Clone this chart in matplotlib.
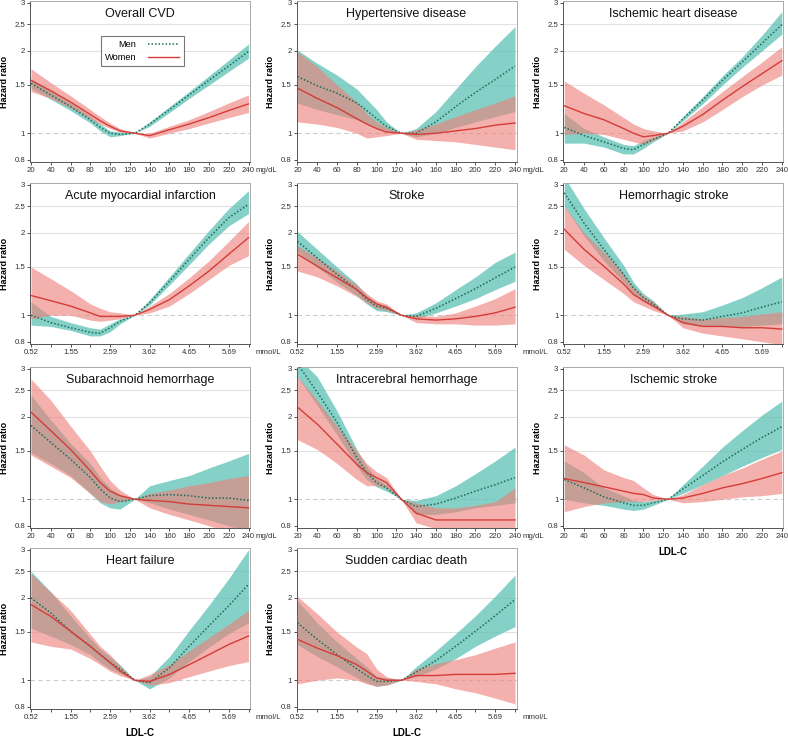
import matplotlib
matplotlib.use("Agg")
import matplotlib.pyplot as plt
import numpy as np

plt.rcParams['font.family'] = ['Liberation Sans', 'DejaVu Sans']

# ======================
# data (LDL-C in mg/dL, hazard ratios)
# ======================
ldl = [20, 40, 60, 80, 90, 100, 110, 125, 140, 160, 180, 200, 220, 240]

x_ticks = [20, 40, 60, 80, 100, 120, 140, 160, 180, 200, 220, 240]
mg_labels = ["20", "40", "60", "80", "100", "120", "140", "160", "180", "200", "220", "240"]
mmol_labels = ["0.52", "", "1.55", "", "2.59", "", "3.62", "", "4.65", "", "5.69", ""]

y_ticks = [0.8, 1, 1.5, 2, 2.5, 3]
y_labels = ["0.8", "1", "1.5", "2", "2.5", "3"]

# Overall CVD
cvd_m    = [1.52, 1.38, 1.25, 1.12, 1.05, 1.00, 0.99, 1.00, 1.08, 1.22, 1.38, 1.56, 1.76, 1.99]
cvd_m_lo = [1.46, 1.33, 1.21, 1.09, 1.02, 0.97, 0.98, 1.00, 1.06, 1.19, 1.34, 1.50, 1.68, 1.88]
cvd_m_hi = [1.58, 1.43, 1.29, 1.15, 1.08, 1.02, 1.01, 1.00, 1.10, 1.25, 1.42, 1.62, 1.85, 2.12]
cvd_w    = [1.56, 1.43, 1.30, 1.17, 1.11, 1.06, 1.02, 1.00, 0.98, 1.03, 1.08, 1.14, 1.21, 1.28]
cvd_w_lo = [1.42, 1.34, 1.24, 1.13, 1.08, 1.04, 1.01, 1.00, 0.96, 1.00, 1.04, 1.09, 1.14, 1.19]
cvd_w_hi = [1.72, 1.53, 1.37, 1.22, 1.15, 1.09, 1.04, 1.00, 1.00, 1.06, 1.12, 1.20, 1.29, 1.38]

# Hypertensive disease
htn_m    = [1.61, 1.49, 1.40, 1.29, 1.21, 1.13, 1.06, 1.00, 1.00, 1.10, 1.25, 1.41, 1.57, 1.76]
htn_m_lo = [1.29, 1.22, 1.17, 1.12, 1.08, 1.05, 1.02, 1.00, 0.97, 1.00, 1.05, 1.10, 1.15, 1.20]
htn_m_hi = [2.01, 1.80, 1.63, 1.45, 1.33, 1.22, 1.10, 1.00, 1.04, 1.20, 1.45, 1.75, 2.08, 2.45]
htn_w    = [1.46, 1.34, 1.24, 1.13, 1.08, 1.04, 1.01, 1.00, 0.99, 1.00, 1.02, 1.04, 1.07, 1.09]
htn_w_lo = [1.10, 1.08, 1.05, 1.00, 0.96, 0.97, 0.98, 1.00, 0.95, 0.94, 0.93, 0.91, 0.89, 0.87]
htn_w_hi = [1.98, 1.75, 1.50, 1.30, 1.18, 1.10, 1.05, 1.00, 1.03, 1.08, 1.15, 1.22, 1.29, 1.37]

# Ischemic heart disease
ihd_m    = [1.05, 0.98, 0.93, 0.88, 0.87, 0.91, 0.95, 1.00, 1.13, 1.32, 1.56, 1.82, 2.13, 2.49]
ihd_m_lo = [0.92, 0.92, 0.89, 0.84, 0.84, 0.88, 0.93, 1.00, 1.11, 1.28, 1.50, 1.74, 2.00, 2.30]
ihd_m_hi = [1.18, 1.04, 0.97, 0.91, 0.90, 0.94, 0.97, 1.00, 1.15, 1.36, 1.62, 1.90, 2.28, 2.78]
ihd_w    = [1.26, 1.18, 1.12, 1.04, 1.00, 0.97, 0.98, 1.00, 1.06, 1.17, 1.32, 1.48, 1.65, 1.84]
ihd_w_lo = [0.99, 1.00, 0.99, 0.95, 0.93, 0.91, 0.94, 1.00, 1.02, 1.10, 1.22, 1.36, 1.50, 1.63]
ihd_w_hi = [1.55, 1.40, 1.27, 1.14, 1.08, 1.04, 1.02, 1.00, 1.10, 1.25, 1.42, 1.61, 1.82, 2.07]

# Acute myocardial infarction
ami_m    = [1.00, 0.94, 0.90, 0.865, 0.86, 0.90, 0.95, 1.00, 1.11, 1.33, 1.60, 1.92, 2.27, 2.54]
ami_m_lo = [0.92, 0.91, 0.88, 0.84, 0.84, 0.87, 0.93, 1.00, 1.09, 1.29, 1.53, 1.82, 2.12, 2.35]
ami_m_hi = [1.12, 0.99, 0.94, 0.90, 0.89, 0.93, 0.97, 1.00, 1.14, 1.38, 1.68, 2.04, 2.45, 2.85]
ami_w    = [1.18, 1.13, 1.08, 1.02, 0.99, 0.99, 0.99, 1.00, 1.05, 1.14, 1.28, 1.45, 1.67, 1.92]
ami_w_lo = [0.97, 1.00, 1.00, 0.96, 0.95, 0.96, 0.97, 1.00, 1.02, 1.08, 1.20, 1.35, 1.52, 1.65]
ami_w_hi = [1.50, 1.36, 1.23, 1.10, 1.06, 1.03, 1.02, 1.00, 1.08, 1.20, 1.37, 1.58, 1.86, 2.20]

# Stroke
stk_m    = [1.86, 1.62, 1.41, 1.24, 1.14, 1.08, 1.06, 1.00, 0.99, 1.06, 1.15, 1.25, 1.37, 1.50]
stk_m_lo = [1.70, 1.50, 1.32, 1.18, 1.10, 1.04, 1.03, 1.00, 0.97, 1.02, 1.08, 1.15, 1.24, 1.33]
stk_m_hi = [2.02, 1.74, 1.50, 1.30, 1.18, 1.11, 1.08, 1.00, 1.02, 1.11, 1.24, 1.38, 1.56, 1.70]
stk_w    = [1.67, 1.51, 1.37, 1.24, 1.16, 1.10, 1.07, 1.00, 0.97, 0.96, 0.97, 0.99, 1.02, 1.07]
stk_w_lo = [1.45, 1.38, 1.28, 1.17, 1.11, 1.06, 1.04, 1.00, 0.94, 0.93, 0.93, 0.92, 0.92, 0.93]
stk_w_hi = [1.79, 1.62, 1.45, 1.29, 1.20, 1.13, 1.10, 1.00, 1.00, 0.99, 1.02, 1.08, 1.15, 1.25]

# Hemorrhagic stroke
hem_m    = [2.80, 2.17, 1.74, 1.41, 1.26, 1.16, 1.10, 1.00, 0.97, 0.96, 0.99, 1.02, 1.07, 1.12]
hem_m_lo = [2.50, 1.95, 1.58, 1.32, 1.20, 1.12, 1.07, 1.00, 0.93, 0.91, 0.91, 0.91, 0.92, 0.93]
hem_m_hi = [3.20, 2.45, 1.92, 1.52, 1.32, 1.20, 1.13, 1.00, 1.01, 1.03, 1.09, 1.16, 1.26, 1.38]
hem_w    = [2.06, 1.74, 1.51, 1.30, 1.19, 1.13, 1.08, 1.00, 0.94, 0.91, 0.91, 0.90, 0.90, 0.89]
hem_w_lo = [1.74, 1.52, 1.35, 1.20, 1.12, 1.08, 1.04, 1.00, 0.90, 0.86, 0.84, 0.82, 0.80, 0.78]
hem_w_hi = [2.50, 2.00, 1.70, 1.42, 1.27, 1.18, 1.12, 1.00, 0.99, 0.97, 0.98, 0.99, 1.01, 1.03]

# Subarachnoid hemorrhage
sah_m    = [1.86, 1.61, 1.40, 1.20, 1.09, 1.01, 0.98, 1.00, 1.03, 1.04, 1.03, 1.01, 1.01, 0.99]
sah_m_lo = [1.48, 1.35, 1.22, 1.05, 0.97, 0.93, 0.92, 1.00, 0.97, 0.92, 0.88, 0.84, 0.80, 0.76]
sah_m_hi = [2.40, 1.95, 1.60, 1.35, 1.20, 1.10, 1.04, 1.00, 1.12, 1.17, 1.22, 1.30, 1.38, 1.47]
sah_w    = [2.08, 1.78, 1.52, 1.27, 1.15, 1.07, 1.03, 1.00, 0.99, 0.98, 0.96, 0.95, 0.94, 0.93]
sah_w_lo = [1.45, 1.32, 1.20, 1.05, 0.98, 0.96, 0.98, 1.00, 0.93, 0.88, 0.84, 0.80, 0.76, 0.73]
sah_w_hi = [2.75, 2.30, 1.85, 1.50, 1.32, 1.17, 1.08, 1.00, 1.05, 1.08, 1.12, 1.15, 1.19, 1.22]

# Intracerebral hemorrhage
ich_m    = [3.12, 2.46, 1.91, 1.42, 1.25, 1.15, 1.10, 1.00, 0.94, 0.96, 1.01, 1.07, 1.13, 1.20]
ich_m_lo = [2.80, 2.20, 1.72, 1.32, 1.18, 1.11, 1.07, 1.00, 0.88, 0.88, 0.90, 0.93, 0.95, 0.97]
ich_m_hi = [3.30, 2.80, 2.10, 1.52, 1.32, 1.19, 1.13, 1.00, 0.99, 1.03, 1.12, 1.24, 1.38, 1.55]
ich_w    = [2.17, 1.88, 1.59, 1.34, 1.25, 1.20, 1.15, 1.00, 0.89, 0.84, 0.84, 0.84, 0.84, 0.84]
ich_w_lo = [1.65, 1.52, 1.35, 1.18, 1.12, 1.12, 1.10, 1.00, 0.82, 0.78, 0.77, 0.77, 0.77, 0.77]
ich_w_hi = [2.80, 2.30, 1.85, 1.50, 1.35, 1.26, 1.20, 1.00, 0.97, 0.93, 0.93, 0.95, 0.98, 1.10]

# Ischemic stroke
isc_m    = [1.18, 1.10, 1.02, 0.97, 0.95, 0.95, 0.97, 1.00, 1.09, 1.22, 1.37, 1.52, 1.68, 1.84]
isc_m_lo = [1.00, 0.97, 0.95, 0.92, 0.91, 0.92, 0.95, 1.00, 1.05, 1.13, 1.22, 1.32, 1.42, 1.52]
isc_m_hi = [1.38, 1.25, 1.10, 1.03, 0.99, 0.98, 0.99, 1.00, 1.13, 1.32, 1.55, 1.78, 2.03, 2.28]
isc_w    = [1.19, 1.15, 1.11, 1.07, 1.05, 1.04, 1.01, 1.00, 1.01, 1.05, 1.10, 1.14, 1.19, 1.25]
isc_w_lo = [0.90, 0.94, 0.97, 0.98, 0.98, 0.98, 0.99, 1.00, 0.97, 0.98, 1.00, 1.02, 1.03, 1.05]
isc_w_hi = [1.58, 1.45, 1.28, 1.20, 1.17, 1.10, 1.04, 1.00, 1.04, 1.13, 1.22, 1.30, 1.40, 1.50]

# Heart failure
hf_m    = [2.00, 1.76, 1.51, 1.33, 1.24, 1.16, 1.10, 1.00, 0.98, 1.11, 1.33, 1.58, 1.87, 2.24]
hf_m_lo = [1.55, 1.45, 1.35, 1.24, 1.16, 1.10, 1.06, 1.00, 0.93, 1.02, 1.17, 1.32, 1.48, 1.62]
hf_m_hi = [2.50, 2.10, 1.72, 1.42, 1.30, 1.22, 1.14, 1.00, 1.03, 1.22, 1.52, 1.88, 2.35, 3.00]
hf_w    = [1.89, 1.71, 1.51, 1.33, 1.24, 1.16, 1.08, 1.00, 0.99, 1.05, 1.14, 1.24, 1.35, 1.45]
hf_w_lo = [1.38, 1.33, 1.30, 1.20, 1.14, 1.08, 1.04, 1.00, 0.96, 0.98, 1.03, 1.08, 1.13, 1.17]
hf_w_hi = [2.45, 2.10, 1.80, 1.47, 1.33, 1.24, 1.13, 1.00, 1.05, 1.14, 1.28, 1.43, 1.60, 1.80]

# Sudden cardiac death
scd_m    = [1.62, 1.41, 1.24, 1.10, 1.04, 0.99, 0.99, 1.00, 1.07, 1.18, 1.33, 1.51, 1.72, 1.97]
scd_m_lo = [1.35, 1.22, 1.12, 1.02, 0.98, 0.95, 0.96, 1.00, 1.03, 1.10, 1.20, 1.33, 1.45, 1.57]
scd_m_hi = [1.95, 1.62, 1.38, 1.20, 1.12, 1.03, 1.02, 1.00, 1.12, 1.28, 1.48, 1.72, 2.03, 2.42]
scd_w    = [1.41, 1.31, 1.23, 1.14, 1.08, 1.02, 1.00, 1.00, 1.04, 1.04, 1.05, 1.05, 1.05, 1.06]
scd_w_lo = [0.97, 1.00, 1.02, 1.00, 0.97, 0.95, 0.96, 1.00, 0.99, 0.97, 0.93, 0.90, 0.86, 0.82]
scd_w_hi = [2.02, 1.75, 1.50, 1.32, 1.25, 1.10, 1.03, 1.00, 1.10, 1.15, 1.19, 1.24, 1.31, 1.38]

# (title, row, col, unit, men, men_lo, men_hi, women, women_lo, women_hi)
panels = [
    ("Overall CVD", 0, 0, "mg/dL", cvd_m, cvd_m_lo, cvd_m_hi, cvd_w, cvd_w_lo, cvd_w_hi),
    ("Hypertensive disease", 0, 1, "mg/dL", htn_m, htn_m_lo, htn_m_hi, htn_w, htn_w_lo, htn_w_hi),
    ("Ischemic heart disease", 0, 2, "mg/dL", ihd_m, ihd_m_lo, ihd_m_hi, ihd_w, ihd_w_lo, ihd_w_hi),
    ("Acute myocardial infarction", 1, 0, "mmol/L", ami_m, ami_m_lo, ami_m_hi, ami_w, ami_w_lo, ami_w_hi),
    ("Stroke", 1, 1, "mmol/L", stk_m, stk_m_lo, stk_m_hi, stk_w, stk_w_lo, stk_w_hi),
    ("Hemorrhagic stroke", 1, 2, "mmol/L", hem_m, hem_m_lo, hem_m_hi, hem_w, hem_w_lo, hem_w_hi),
    ("Subarachnoid hemorrhage", 2, 0, "mg/dL", sah_m, sah_m_lo, sah_m_hi, sah_w, sah_w_lo, sah_w_hi),
    ("Intracerebral hemorrhage", 2, 1, "mg/dL", ich_m, ich_m_lo, ich_m_hi, ich_w, ich_w_lo, ich_w_hi),
    ("Ischemic stroke", 2, 2, "mg/dL", isc_m, isc_m_lo, isc_m_hi, isc_w, isc_w_lo, isc_w_hi),
    ("Heart failure", 3, 0, "mmol/L", hf_m, hf_m_lo, hf_m_hi, hf_w, hf_w_lo, hf_w_hi),
    ("Sudden cardiac death", 3, 1, "mmol/L", scd_m, scd_m_lo, scd_m_hi, scd_w, scd_w_lo, scd_w_hi),
]

# ======================
# layout
# ======================
W, H = 788, 737
col_left = [30, 296.5, 563.3]
row_top = [1, 183, 367, 548]
ax_w, ax_h = 220, 161

men_line = "#1e6b57"
men_fill = "#5cc1b5"
women_line = "#d43c37"
women_fill = "#ee8079"

fig = plt.figure(figsize=(W / 100, H / 100), dpi=100)

for title, r, c, unit, m, m_lo, m_hi, w, w_lo, w_hi in panels:
    ax = fig.add_axes([col_left[c] / W, 1 - (row_top[r] + ax_h) / H, ax_w / W, ax_h / H])
    ax.set_yscale("log")
    ax.set_xlim(19, 241.5)
    ax.set_ylim(0.785, 3.04)

    for g in [1.5, 2, 2.5]:
        ax.axhline(g, color="#e2e2e2", lw=0.8, zorder=0)
    ax.axhline(1, color="#cccccc", lw=0.8, ls=(0, (4, 3)), zorder=0.5)

    ax.fill_between(ldl, m_lo, m_hi, color=men_fill, alpha=0.75, lw=0, zorder=1)
    ax.fill_between(ldl, w_lo, w_hi, color=women_fill, alpha=0.62, lw=0, zorder=2)
    ax.plot(ldl, m, color=men_line, lw=1.1, ls=(0, (1, 1.3)), zorder=3, label="Men")
    ax.plot(ldl, w, color=women_line, lw=1.0, zorder=3, label="Women")

    ax.set_yticks(y_ticks)
    ax.set_yticklabels(y_labels)
    ax.yaxis.set_minor_locator(matplotlib.ticker.NullLocator())
    ax.set_xticks(x_ticks)
    ax.set_xticklabels(mg_labels if unit == "mg/dL" else mmol_labels)
    ax.tick_params(labelsize=5.6, length=2, width=0.6, pad=1.6, colors="#333333")

    for s in ["left", "bottom"]:
        ax.spines[s].set_color("#555555")
        ax.spines[s].set_linewidth(0.7)
    for s in ["top", "right"]:
        ax.spines[s].set_color("#aaaaaa")
        ax.spines[s].set_linewidth(0.7)

    ax.text(0.5, 0.92, title, transform=ax.transAxes, ha="center", va="center",
            fontsize=9, color="#111111")

    ax.set_ylabel("Hazard ratio", fontsize=6.5, fontweight="bold")
    ax.yaxis.set_label_coords(-0.097, 0.5)

    if c < 2:
        ax.annotate(unit, xy=(1, 0), xycoords="axes fraction", xytext=(4, -3.6),
                    textcoords="offset points", ha="left", va="top",
                    fontsize=5.6, color="#333333", annotation_clip=False)

    if (r == 3) or (r == 2 and c == 2):
        ax.set_xlabel("LDL-C", fontsize=7, fontweight="bold")
        ax.xaxis.set_label_coords(0.5, -0.12)

    if r == 0 and c == 0:
        leg = ax.legend(loc="upper center", bbox_to_anchor=(0.51, 0.81), fontsize=6.7,
                        markerfirst=False, handlelength=3.4, frameon=True,
                        fancybox=False, borderpad=0.45, labelspacing=0.4,
                        handletextpad=1.2)
        leg.get_frame().set_edgecolor("#555555")
        leg.get_frame().set_linewidth(0.8)

fig.savefig("out.png", dpi=100)
